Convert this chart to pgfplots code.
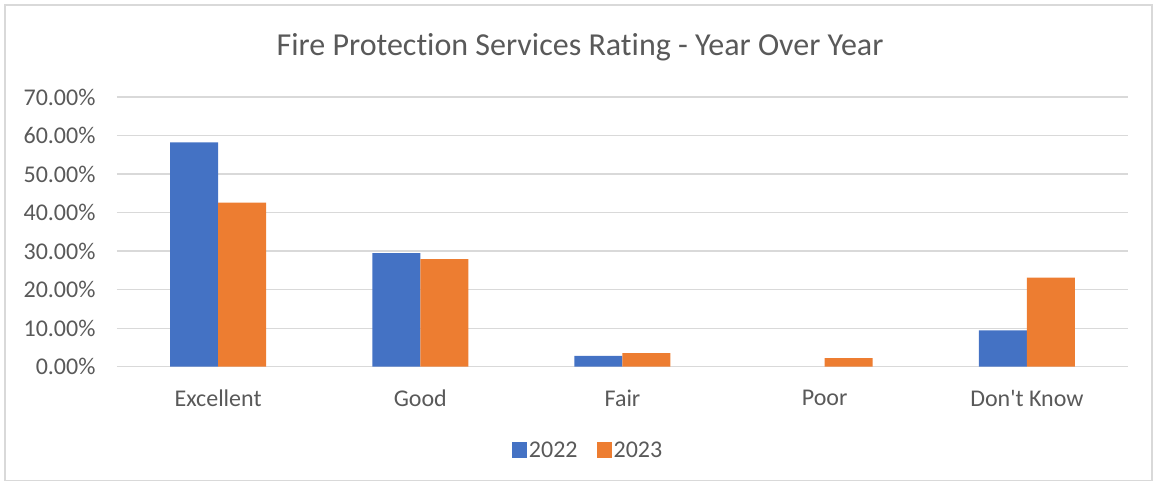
\documentclass[border=0pt]{standalone}
\usepackage{fontspec}
\setmainfont{Carlito}[Ligatures=NoCommon]
\usepackage{pgfplots}
\pgfplotsset{compat=1.18}
\definecolor{cblue}{HTML}{4472C4}
\definecolor{corange}{HTML}{ED7D31}
\definecolor{cgrid}{HTML}{D9D9D9}
\definecolor{ctext}{HTML}{595959}
\begin{document}
\begin{tikzpicture}[x=1pt,y=1pt]
\useasboundingbox (-117,-119.3) rectangle (1040,366.7);
\draw[cgrid,line width=1.2pt] (-112,-114) rectangle (1035,361.7);
\begin{axis}[
  at={(0,0)}, anchor=south west,
  scale only axis, width=1011pt, height=269.7pt,
  xmin=-0.5, xmax=4.5, ymin=0, ymax=70,
  ybar=0pt, bar width=48pt,
  xtick={0,1,2,3,4},
  xticklabels={Excellent,Good,Fair,Poor,Don\textquotesingle t Know},
  ytick={0,10,20,30,40,50,60,70},
  yticklabels={0.00\%,10.00\%,20.00\%,30.00\%,40.00\%,50.00\%,60.00\%,70.00\%},
  axis line style={draw=none},
  major tick length=0pt,
  ymajorgrids, grid style={cgrid,line width=1.3pt},
  ticklabel style={font=\fontsize{24}{28}\selectfont, text=ctext},
  xticklabel style={yshift=-20pt},
  yticklabel style={xshift=-18pt},
  title={Fire Protection Services Rating - Year Over Year},
  title style={font=\fontsize{32}{38}\selectfont, text=ctext, at={(0.458,1.163)}, anchor=center},
  legend style={at={(0.466,-0.31)}, anchor=center, draw=none, font=\fontsize{24}{28}\selectfont, text=ctext, legend columns=2, /tikz/every even column/.append style={column sep=17pt}},
  legend image code/.code={\fill[#1] (0pt,-8pt) rectangle (15pt,8pt);},
]
\addplot[fill=cblue, draw=none] coordinates {(0,58.2) (1,29.5) (2,2.8) (4,9.4)};
\addplot[fill=corange, draw=none] coordinates {(0,42.6) (1,27.9) (2,3.5) (3,2.2) (4,23.1)};
\legend{2022,2023}
\end{axis}
\end{tikzpicture}
\end{document}
